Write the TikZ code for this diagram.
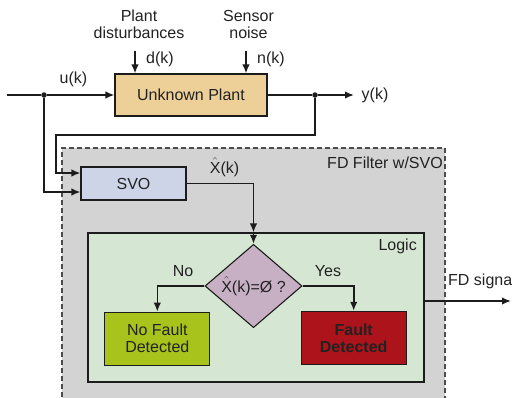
\documentclass[tikz,border=0pt]{standalone}
\usepackage{fontspec}
\setmainfont{Liberation Sans}
\usetikzlibrary{arrows.meta,positioning,shapes.geometric,calc}

\definecolor{linecol}{HTML}{1C1C1C}
\definecolor{txtcol}{HTML}{222222}
\definecolor{plantcol}{HTML}{EDCF98}
\definecolor{svocol}{HTML}{CED4E8}
\definecolor{fdfcol}{HTML}{D3D3D3}
\definecolor{logiccol}{HTML}{D5E6D2}
\definecolor{diacol}{HTML}{C8B0C4}
\definecolor{okcol}{HTML}{A8C31C}
\definecolor{faultcol}{HTML}{AD131A}

\newcommand{\xhat}{$\hat{\hbox{X}}$}

\begin{document}
\begin{tikzpicture}[
			x=1pt,y=-1pt,
			font=\fontsize{16}{17}\selectfont,
			block/.style={
				draw=linecol,
				line width=1.1pt,
				inner sep=0pt,
				align=center,
				text=txtcol
			},
			fdbox/.style={
				draw=black!70,
				fill=fdfcol,
				line width=1.2pt,
				dash pattern=on 5pt off 3pt
			},
			arr/.style={draw=linecol, line width=1.6pt, -{Latex[length=9pt,width=7.5pt]}},
			wire/.style={draw=linecol, line width=1.6pt},
			lbl/.style={inner sep=0pt, text=txtcol, align=center},
			dot/.style={circle, fill=linecol, inner sep=0pt, minimum size=5.5pt}
			]
			\useasboundingbox (0,0) rectangle (512,397);
			
			% Filter region and logic region
			\node[fdbox, minimum width=383pt, minimum height=262pt] (fdf) at (253.5,279) {};
			\node[block, fill=logiccol, minimum width=336pt, minimum height=149pt] (logic) at (256,307.5) {};
			\node[lbl, anchor=east] (fdtitle) at (443,163) {FD Filter w/SVO};
			\node[lbl, anchor=east] (logictitle) at (417,246) {Logic};
			
			% Plant and its inputs
			\node[block, fill=plantcol, minimum width=152pt, minimum height=42pt] (plant) at (191,95) {Unknown Plant};
			\node[lbl] (pdlbl) at (139,24) {Plant\\disturbances};
			\node[lbl] (snlbl) at (248.5,24) {Sensor\\noise};
			\node[lbl] (dlbl) at (160,59) {d(k)};
			\node[lbl] (nlbl) at (271,59) {n(k)};
			\node[lbl] (ulbl) at (73.5,79) {u(k)};
			\node[lbl] (ylbl) at (375,95) {y(k)};
			\coordinate (din) at (135,51);
			\coordinate (nin) at (246,51);
			\coordinate (uin) at (7,95);
			\coordinate (yout) at (354,95);
			\node[dot] (ju) at (44,95) {};
			\node[dot] (jy) at (315,95) {};
			
			% Observer
			\node[block, fill=svocol, minimum width=105pt, minimum height=33pt] (svo) at (133.5,183.5) {SVO};
			\node[lbl] (xlbl) at (224.5,167) {\xhat(k)};
			\coordinate (fb) at (56,135);
			
			% Decision and outcomes
			\node[block, shape=diamond, fill=diacol, minimum width=97pt, minimum height=63pt] (dia) at (253.5,286) {\xhat(k)=Ø ?};
			\node[block, fill=okcol, minimum width=105pt, minimum height=53pt] (nofault) at (157.3,338.7) {No Fault\\Detected};
			\node[block, fill=faultcol, minimum width=105pt, minimum height=53pt, font=\fontsize{16}{17}\selectfont\bfseries] (fault) at (353.7,337.8) {Fault\\Detected};
			\node[lbl] (nolbl) at (183,271) {No};
			\node[lbl] (yeslbl) at (328,271) {Yes};
			\coordinate (lgin) at (dia.north |- logic.north);
			\coordinate (fdend) at (511,301);
			\node[lbl, anchor=west] (fdlbl) at (448,281) {FD signal};
			
			% Signal paths
			\draw[wire] (uin)--(ju);
			\draw[arr] (ju)--(plant.west);
			\draw[arr] (din)--(din |- plant.north);
			\draw[arr] (nin)--(nin |- plant.north);
			\draw[wire] (plant.east)--(jy);
			\draw[arr] (jy)--(yout);
			\draw[arr] (jy) |- (fb) |- ([yshift=10.5pt]svo.west);
			\draw[arr] (ju) |- ([yshift=-8.5pt]svo.west);
			\draw[arr] (svo.east) -| (lgin);
			\draw[arr] (lgin)--(dia.north);
			\draw[arr] (dia.west) -| (nofault.north);
			\draw[arr] (dia.east) -| (fault.north);
			\draw[arr] (logic.east |- fdend)--(fdend);
			
		\end{tikzpicture}
\end{document}
